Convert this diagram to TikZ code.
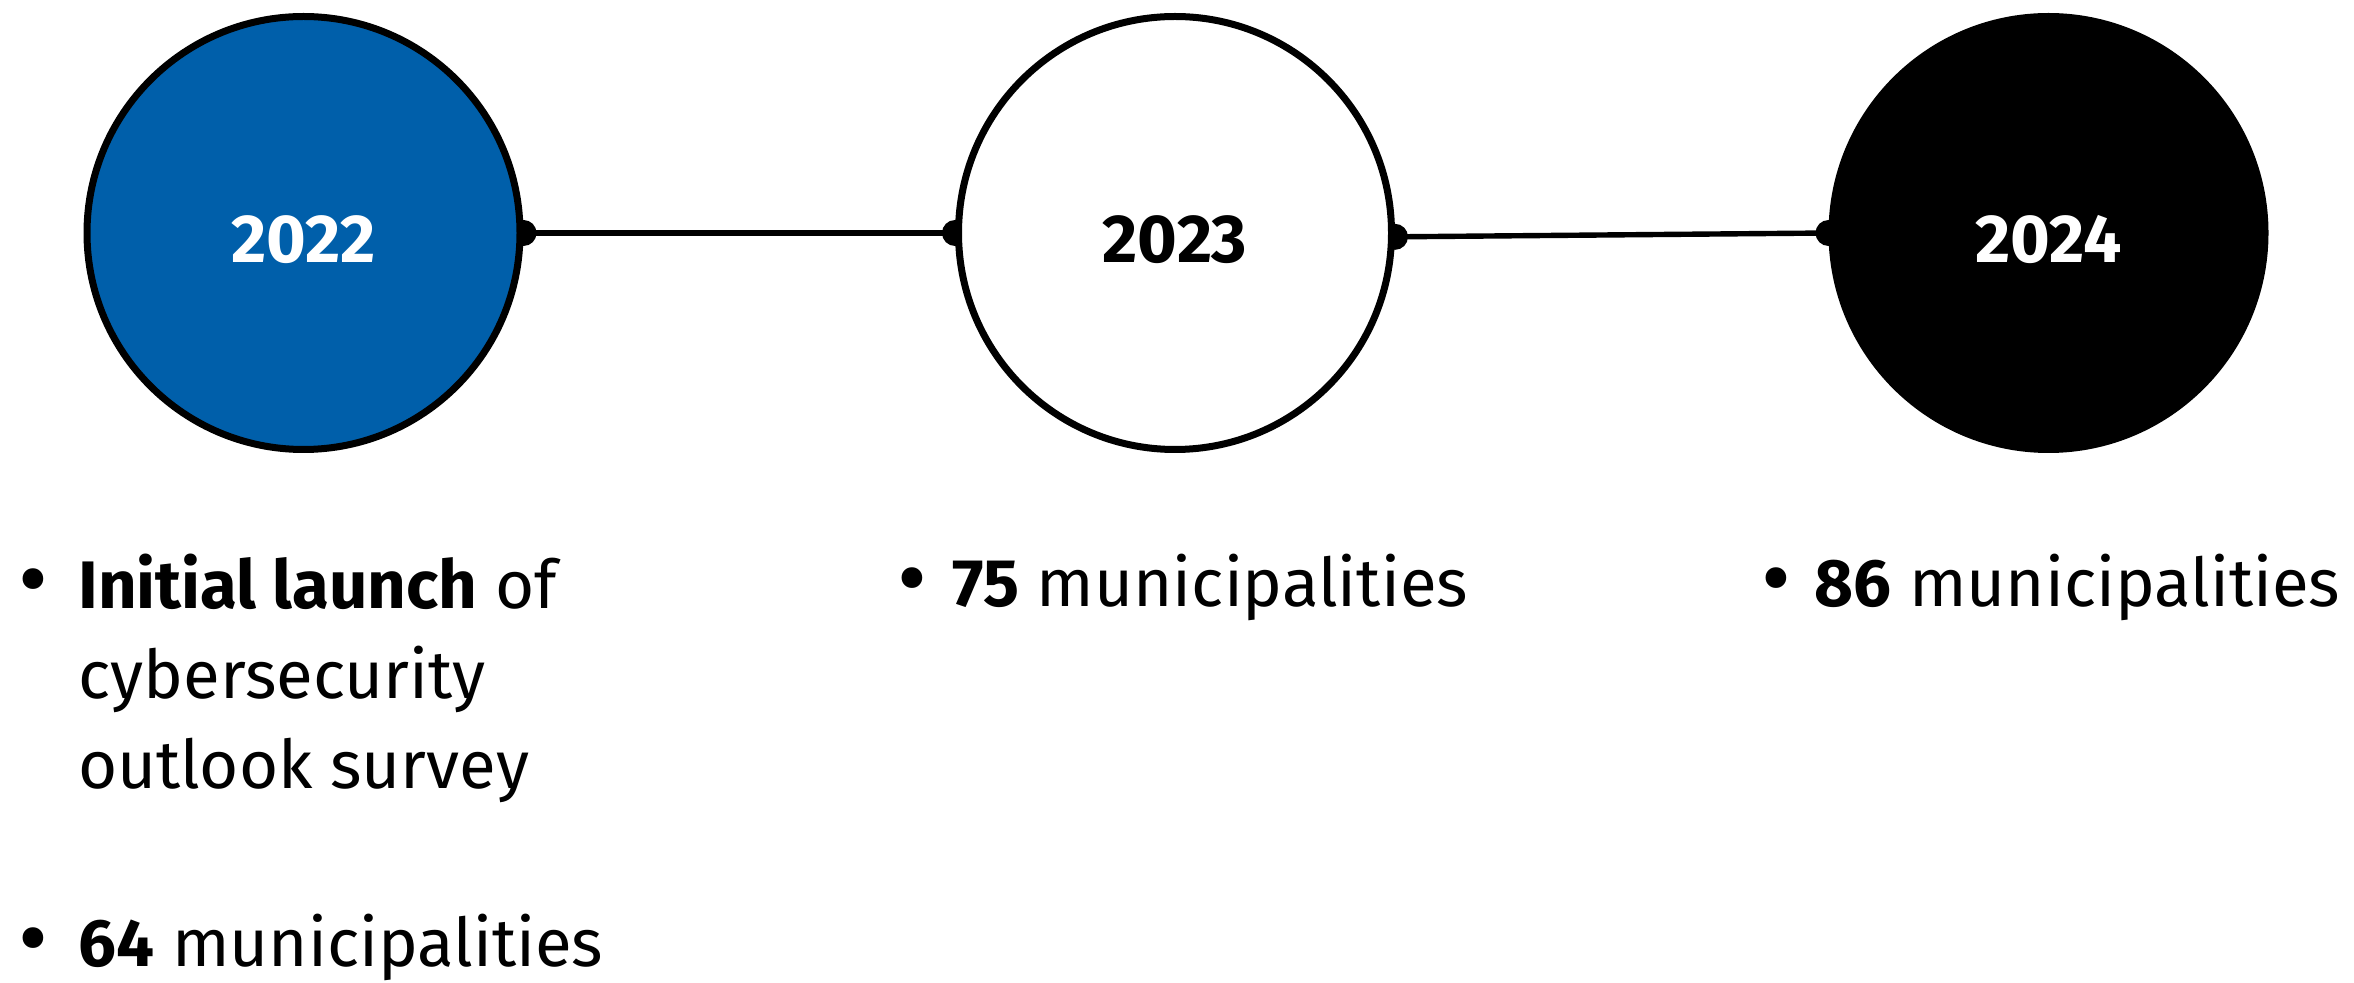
\documentclass[tikz,border=0pt]{standalone}
\usepackage{fontspec}
\setmainfont{Fira Sans}
\usetikzlibrary{backgrounds}
\definecolor{yearblue}{HTML}{005FAA}
\tikzset{
  year/.style={circle, draw=black, line width=3.5pt, minimum size=216.5pt, inner sep=0pt},
  yeartext/.style={anchor=center, inner sep=0pt, font=\fontsize{34}{40}\selectfont\bfseries},
  conn/.style={line width=2.7pt, draw=black},
  dot/.style={fill=black},
  bullet/.style={anchor=base, inner sep=0pt, font=\fontsize{46}{45}\selectfont},
  item/.style={anchor=base west, inner sep=0pt, align=left, font=\fontsize{33.6}{45}\selectfont}
}
\begin{document}
\begin{tikzpicture}[x=0.5pt, y=-0.5pt]
\useasboundingbox (0,0) rectangle (2354,983);

% timeline circles
\node[year, fill=yearblue] (c2022) at (303.5,233) {};
\node[year, fill=white]    (c2023) at (1175,233) {};
\node[year, fill=black]    (c2024) at (2048.5,233) {};

\node[yeartext, text=white] (t2022) at ([yshift=-3.5pt]c2022.center) {2022};
\node[yeartext, text=black] (t2023) at ([yshift=-3.5pt]c2023.center) {2023};
\node[yeartext, text=white] (t2024) at ([yshift=-3.5pt]c2024.center) {2024};

% connectors with end dots, behind the circles
\begin{scope}[on background layer]
  \draw[conn] (c2022.east) -- (c2023.west);
  \draw[conn] (c2023.-1) -- (c2024.west);
  \fill[dot] (c2022.east) circle (6.5pt);
  \fill[dot] (c2023.west) circle (6.5pt);
  \fill[dot] (c2023.-1) circle (6.5pt);
  \fill[dot] (c2024.west) circle (6.5pt);
\end{scope}

% bullet lists under each year (multi-line node sits on its last baseline)
\node[bullet] (b1) at (33,610) {•};
\node[item] (i1) at (78,788) {\textbf{Initial launch} of\\cybersecurity\\outlook survey};
\node[bullet] (b2) at (33,969) {•};
\node[item] (i2) at (78,966) {\textbf{64} municipalities};

\node[bullet] (b3) at (912,609) {•};
\node[item] (i3) at (952,606) {\textbf{75} municipalities};

\node[bullet] (b4) at (1776,609) {•};
\node[item] (i4) at (1814,606) {\textbf{86} municipalities};
\end{tikzpicture}
\end{document}
